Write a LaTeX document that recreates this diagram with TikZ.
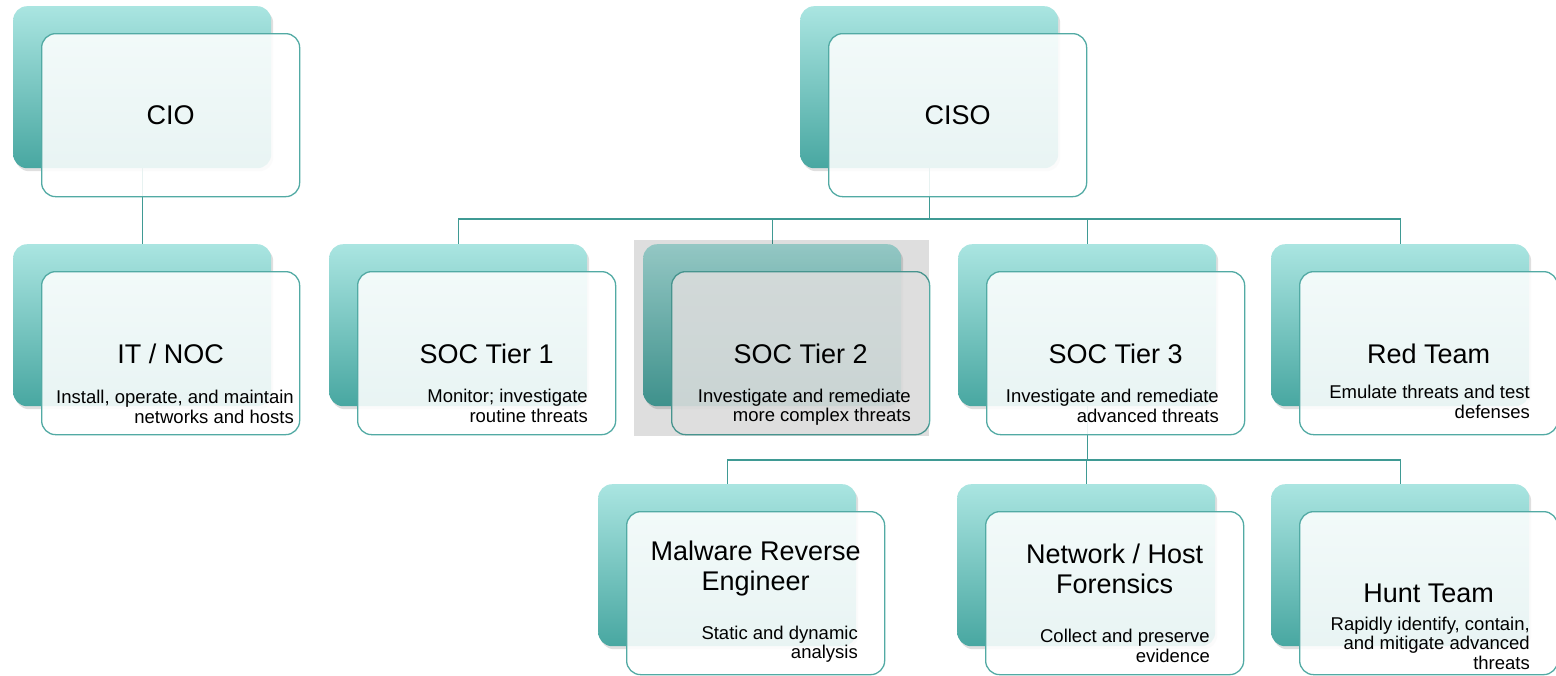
\documentclass[tikz,border=0pt]{standalone}
\usepackage{fontspec}
\setmainfont{Liberation Sans}
\usetikzlibrary{shadows,backgrounds}
\definecolor{tealtop}{HTML}{AAE5E1}
\definecolor{tealbot}{HTML}{48A7A1}
\definecolor{tealline}{HTML}{52AAA4}
\definecolor{wireline}{HTML}{3F9A94}

\begin{document}
\begin{tikzpicture}[x=1pt,y=-1pt,
    back/.style={rectangle,rounded corners=14pt,minimum width=258pt,minimum height=162pt,inner sep=0pt,
      top color=tealtop,bottom color=tealbot,draw=none,
      drop shadow={shadow xshift=2pt,shadow yshift=-3pt,opacity=0.25}},
    front/.style={rectangle,rounded corners=14pt,minimum width=258pt,minimum height=163pt,inner sep=0pt,
      draw=tealline,line width=1.3pt,fill=white,fill opacity=0.88},
    title/.style={font=\fontsize{27}{30}\selectfont,align=center,inner sep=0pt},
    desc/.style={font=\fontsize{18.5}{19.5}\selectfont,align=right,anchor=east,inner sep=0pt},
    wire/.style={draw=wireline,line width=1.2pt}]

            \useasboundingbox (0,0) rectangle (1556,675);

            \foreach \n/\x/\y in {cio/13/6, ciso/800/6, itnoc/13/244, tier1/329/244, tier2/643/244,
                                  tier3/958/244, red/1271/244, malware/598/484, forensics/957/484, hunt/1271/484}{
              \node[back,anchor=north west] (\n-b) at (\x,\y) {};
              \node[front,anchor=north west] (\n) at (\x+28,\y+27) {};
            }

            \node[title] (cio-t) at (cio) {CIO};
            \node[title] (ciso-t) at (ciso) {CISO};

            \foreach \n/\t in {itnoc/{IT / NOC}, tier1/SOC Tier 1, tier2/SOC Tier 2, tier3/SOC Tier 3, red/Red Team}{
              \node[title] (\n-t) at (\n |- 0,354) {\t};
            }
            \node[title] (malware-t) at (malware |- 0,569) {Malware Reverse\\Engineer};
            \node[title] (forensics-t) at (forensics |- 0,569) {Network / Host\\Forensics};
            \node[title] (hunt-t) at (hunt |- 0,593) {Hunt Team};

            \node[desc] (itnoc-d) at (294,407) {Install, operate, and maintain\\networks and hosts};
            \node[desc] (tier1-d) at (588,406) {Monitor; investigate\\routine threats};
            \node[desc] (tier2-d) at (911,407) {Investigate and remediate\\more complex threats};
            \node[desc] (tier3-d) at (1219,406) {Investigate and remediate\\advanced threats};
            \node[desc] (red-d) at (1530,402) {Emulate threats and test\\defenses};
            \node[desc] (malware-d) at (858,644) {Static and dynamic\\analysis};
            \node[desc] (forensics-d) at (1210,646) {Collect and preserve\\evidence};
            \node[desc] (hunt-d) at (1530,643) {Rapidly identify, contain,\\and mitigate advanced\\threats};

            \begin{pgfonlayer}{background}
              \fill[white] (0,0) rectangle (1556,675);
              \draw[wire] (cio-b.south) -- (itnoc-b.north);
              \coordinate (bus1) at (ciso-b.south |- 0,219);
              \draw[wire] (ciso-b.south) -- (bus1);
              \foreach \n in {tier1,tier2,tier3,red}{
                \draw[wire] (bus1) -| (\n-b.north);
              }
              \coordinate (bus2) at (tier3-b.south |- 0,460);
              \draw[wire] (tier3-b.south) -- (bus2);
              \foreach \n in {malware,forensics,hunt}{
                \draw[wire] (bus2) -| (\n-b.north);
              }
            \end{pgfonlayer}

            % highlight
            \fill[black,opacity=0.13] (634,240) rectangle (929,436);
        \end{tikzpicture}
\end{document}
